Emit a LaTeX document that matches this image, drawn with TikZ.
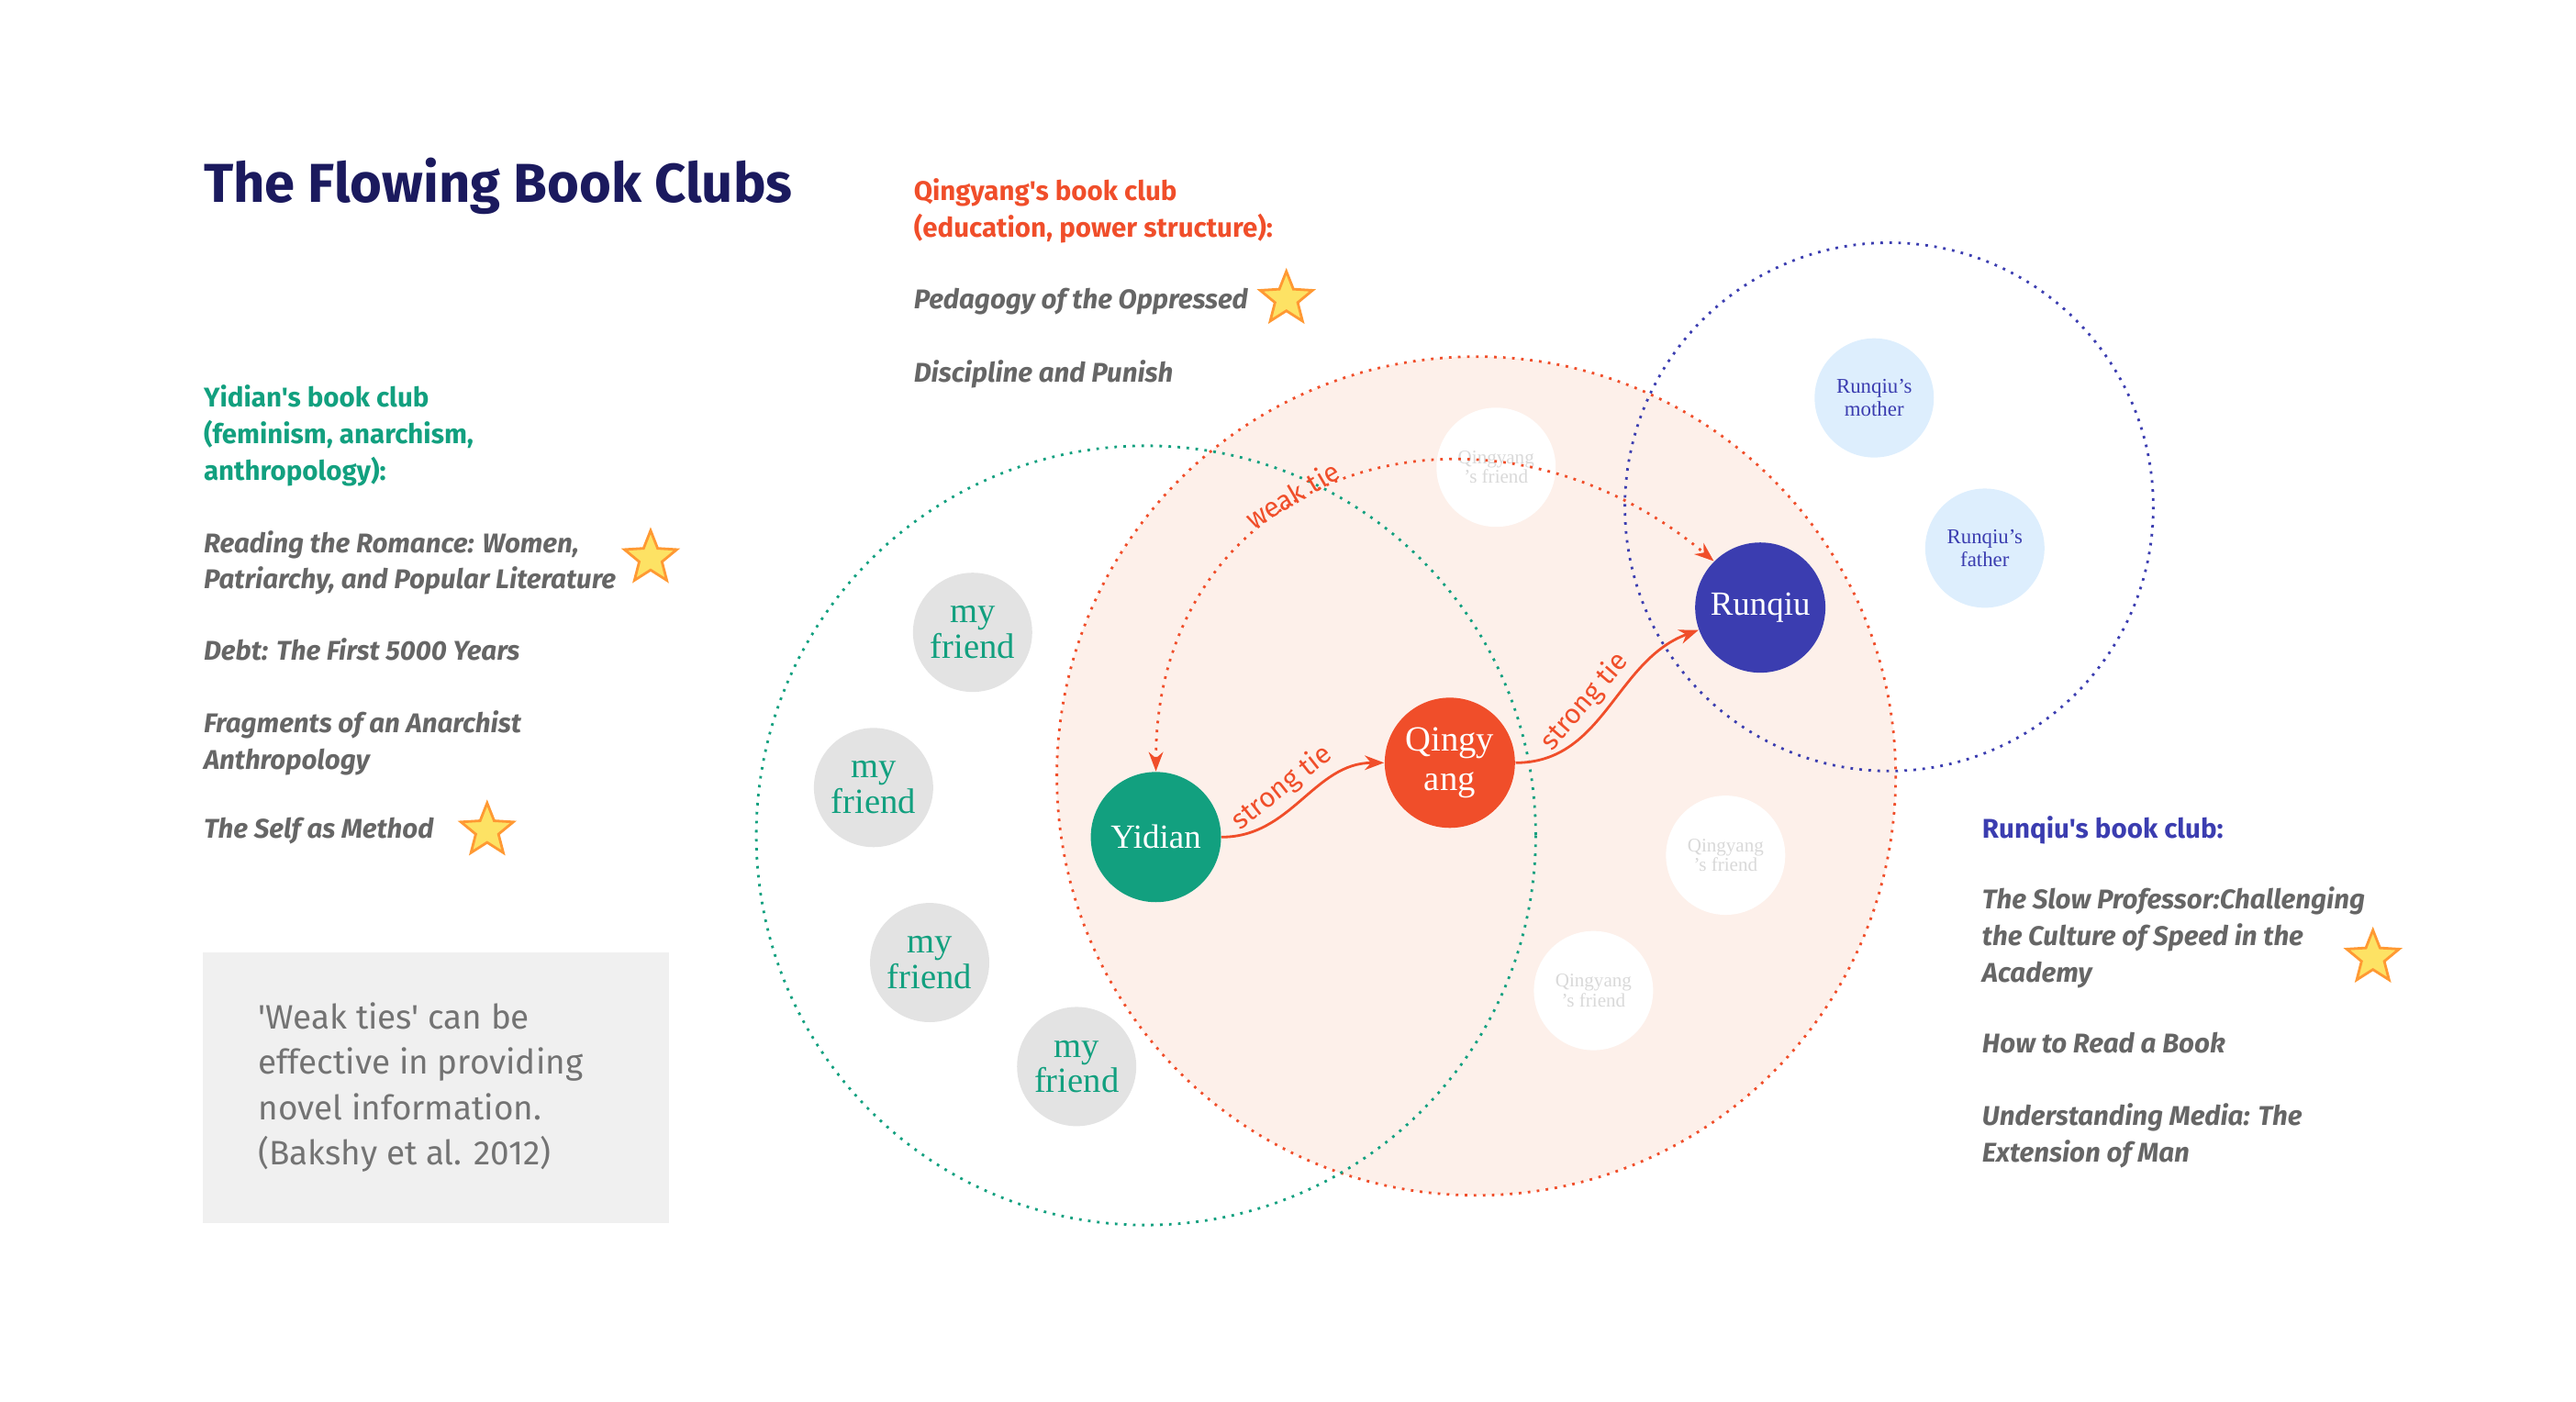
\documentclass[tikz,border=0pt]{standalone}
\usepackage{fontspec}
\setmainfont{Liberation Serif}
\newfontfamily\plexsans{Fira Sans}
\usetikzlibrary{shapes.geometric,arrows.meta}
\definecolor{navy}{HTML}{1B1A5E}
\definecolor{clubgreen}{HTML}{12A07F}
\definecolor{clubred}{HTML}{F04E2A}
\definecolor{clubblue}{HTML}{3B3DB0}
\definecolor{booktext}{HTML}{666666}
\definecolor{peach}{HTML}{FDF0EA}
\definecolor{paleblue}{HTML}{DDEEFD}
\tikzset{
  person/.style={circle,minimum size=#1,inner sep=0pt,align=center},
  friend/.style={person=1.3cm,fill=black!11,text=clubgreen,font=\fontsize{11}{11}\selectfont},
  qfriend/.style={person=1.3cm,fill=white,text=black!15,font=\fontsize{6}{6}\selectfont},
  rfriend/.style={person=1.3cm,fill=paleblue,text=clubblue,font=\fontsize{6.5}{7}\selectfont},
  heading/.style={anchor=north west,inner sep=0pt,align=left,font=\plexsans\bfseries\fontsize{8.4}{11.3}\selectfont},
  book/.style={anchor=north west,inner sep=0pt,align=left,text=booktext,font=\plexsans\bfseries\itshape\fontsize{8.4}{11.3}\selectfont},
  favstar/.style={star,star points=5,star point ratio=2.3,minimum size=0.6cm,inner sep=0pt,fill=yellow!70!orange!60,draw=orange!80,thick},
  tie/.style={-{Stealth[length=6pt]},thick,clubred},
  tielabel/.style={sloped,above=-1pt,font=\plexsans\fontsize{8.5}{9}\selectfont,text=clubred}
}
\begin{document}
\begin{tikzpicture}[x=0.018cm,y=-0.018cm]
\useasboundingbox (0,0) rectangle (1560,849);

% club circles
\fill[peach] (894,470) circle (254);
\draw[clubred,thick,dotted] (894,470) circle (254);
\draw[clubgreen,thick,dotted] (694,506) circle (236);
\draw[clubblue,thick,dotted] (1144,307) circle (160);

% people
\node[friend] (f1) at (589,383) {my\\friend};
\node[friend] (f2) at (529,477) {my\\friend};
\node[friend] (f3) at (563,583) {my\\friend};
\node[friend] (f4) at (652,646) {my\\friend};
\node[qfriend] (q1) at (906,283) {Qingyang\\'s friend};
\node[qfriend] (q2) at (1045,518) {Qingyang\\'s friend};
\node[qfriend] (q3) at (965,600) {Qingyang\\'s friend};
\node[rfriend] (mother) at (1135,241) {Runqiu's\\mother};
\node[rfriend] (father) at (1202,332) {Runqiu's\\father};
\node[person=1.42cm,fill=clubgreen,text=white,font=\fontsize{10.5}{11}\selectfont] (yidian) at (700,507) {Yidian};
\node[person=1.42cm,fill=clubred,text=white,font=\fontsize{11}{12}\selectfont] (qingyang) at (878,462) {Qingy\\ang};
\node[person=1.42cm,fill=clubblue,text=white,font=\fontsize{10.5}{11}\selectfont] (runqiu) at (1066,368) {Runqiu};

% ties
\draw[tie] (yidian) to[out=0,in=180] node[tielabel,pos=0.45] {strong tie} (qingyang);
\draw[tie] (qingyang) to[out=0,in=200] node[tielabel,pos=0.45] {strong tie} (runqiu);
\draw[tie,{Stealth[length=6pt]}-{Stealth[length=6pt]},dotted] (yidian.north) to[out=90,in=140,looseness=1.3] node[tielabel,pos=0.42,above=-3pt] {weak tie} (runqiu.north west);

% title
\node[anchor=west,inner sep=0pt,text=navy,font=\plexsans\bfseries\fontsize{17}{20}\selectfont] (title) at (123,113) {The Flowing Book Clubs};

% Yidian's club
\node[heading,text=clubgreen] (yhead) at (123,233) {Yidian's book club\\(feminism, anarchism,\\anthropology):};
\node[book] (yb1) at (123,321) {Reading the Romance: Women,\\Patriarchy, and Popular Literature};
\node[book] (yb2) at (123,386) {Debt: The First 5000 Years};
\node[book] (yb3) at (123,430) {Fragments of an Anarchist\\Anthropology};
\node[book] (yb4) at (123,495) {The Self as Method};
\node[favstar] (ys1) at (394,338) {};
\node[favstar] (ys2) at (295,503) {};

% Qingyang's club
\node[heading,text=clubred] (qhead) at (553,108) {Qingyang's book club\\(education, power structure):};
\node[book] (qb1) at (553,174) {Pedagogy of the Oppressed};
\node[book] (qb2) at (553,218) {Discipline and Punish};
\node[favstar] (qs1) at (779,181) {};

% Runqiu's club
\node[heading,text=clubblue] (rhead) at (1200,494) {Runqiu's book club:};
\node[book] (rb1) at (1200,537) {The Slow Professor:Challenging\\the Culture of Speed in the\\Academy};
\node[book] (rb2) at (1200,625) {How to Read a Book};
\node[book] (rb3) at (1200,668) {Understanding Media: The\\Extension of Man};
\node[favstar] (rs1) at (1437,580) {};

% quote box
\fill[black!6] (123,577) rectangle (405,741);
\node[anchor=north west,inner sep=0pt,align=left,text=black!55,font=\plexsans\fontsize{10.5}{14}\selectfont] (quote) at (156,607) {'Weak ties' can be\\effective in providing\\novel information.\\(Bakshy et al. 2012)};
\end{tikzpicture}
\end{document}
